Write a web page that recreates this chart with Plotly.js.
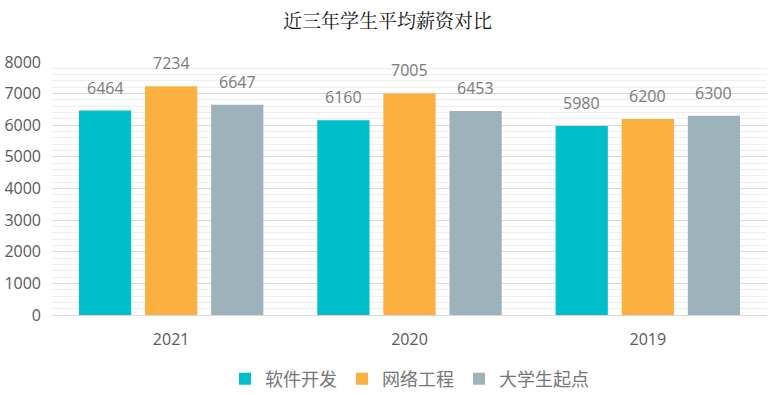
<!DOCTYPE html>
<html><head><meta charset="utf-8">
<script src="https://cdn.plot.ly/plotly-3.0.1.min.js"></script>
<style>body{margin:0;background:#fff}</style>
</head><body><div id="chart" style="width:775px;height:395px"></div>
<script>
const years = ['2021', '2020', '2019'];
const softwareDev = [6464, 6160, 5980];
const networkEng = [7234, 7005, 6200];
const gradStart = [6647, 6453, 6300];
const seriesNames = ['软件开发', '网络工程', '大学生起点'];
const colors = ['#00BFCB', '#FBB040', '#9DB2BA'];
const font = '"Open Sans", "Noto Sans CJK SC", sans-serif';
const cjk = '"Noto Sans CJK SC", sans-serif';
const series = [softwareDev, networkEng, gradStart];
const W = 775, H = 395;
const margin = {l: 52, r: 8, t: 62, b: 80, autoexpand: false};
const bargap = 0.168, bargroupgap = 0.21;
const data = series.map((y, i) => ({
  type: 'bar', x: years, y: y, name: seriesNames[i],
  marker: {color: colors[i]},
  hoverinfo: 'x+y'
}));
// data labels as annotations placed above each bar
const catW = (W - margin.l - margin.r) / years.length;
const slot = catW * (1 - bargap) / series.length;
const annotations = [];
series.forEach((y, i) => {
  y.forEach((v, j) => {
    annotations.push({
      xref: 'x', yref: 'y', x: j, y: v, text: String(v),
      showarrow: false, yanchor: 'bottom', yshift: 10,
      xshift: (i - (series.length - 1) / 2) * slot,
      font: {family: font, size: 16, color: '#7a7a7a'}
    });
  });
});
const layout = {
  width: W, height: H, margin: margin,
  title: {text: '近三年学生平均薪资对比', font: {family: '"Noto Serif CJK SC", "Noto Sans CJK SC", serif', size: 19, color: '#111'}, x: 0.5, xanchor: 'center', y: 0.945, yanchor: 'middle'},
  bargap: bargap, bargroupgap: bargroupgap,
  showlegend: true,
  legend: {orientation: 'h', x: 0.5, xanchor: 'center', y: -0.253, yanchor: 'middle', font: {family: cjk, size: 18, color: '#777'}, itemwidth: 30, traceorder: 'normal'},
  xaxis: {type: 'category', range: [-0.5, years.length - 0.5], tickfont: {family: font, size: 16, color: '#595959'}, showline: true, linecolor: '#d9d9d9', ticks: '', ticklabelstandoff: 10},
  yaxis: {range: [0, 8000], dtick: 1000, tickfont: {family: font, size: 16, color: '#595959'}, gridcolor: '#d9d9d9', zeroline: false,
    minor: {dtick: 200, showgrid: true, gridcolor: '#eeeeee'}, ticklabelstandoff: 10},
  annotations: annotations,
  plot_bgcolor: '#fff', paper_bgcolor: '#fff'
};
Plotly.newPlot('chart', data, layout, {displayModeBar: false});
</script></body></html>
